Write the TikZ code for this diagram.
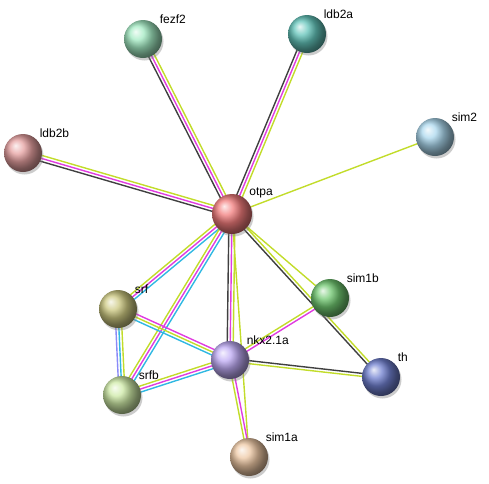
\documentclass[tikz,border=0pt]{standalone}
\usepackage{fontspec}
\setmainfont{Liberation Sans}
\usetikzlibrary{calc,backgrounds,shadows}
\definecolor{gk}{HTML}{404040}
\definecolor{gm}{HTML}{E03CE0}
\definecolor{gy}{HTML}{C2DC2A}
\definecolor{gc}{HTML}{30B8E2}
\definecolor{gv}{HTML}{8A8AF8}
\definecolor{otpaC}{HTML}{F27C7C}
\definecolor{fezfC}{HTML}{A2EAC2}
\definecolor{ldbaC}{HTML}{62C4BA}
\definecolor{ldbbC}{HTML}{E6A0A0}
\definecolor{simtC}{HTML}{ABD8EE}
\definecolor{simbC}{HTML}{70C870}
\definecolor{srfC}{HTML}{CCC880}
\definecolor{nkxC}{HTML}{BEAAF4}
\definecolor{thC}{HTML}{7080D0}
\definecolor{srfbC}{HTML}{CEEAA6}
\definecolor{simaC}{HTML}{EEC8A4}

% parallel evidence lines between two proteins
\newcommand{\link}[4]{%
  \foreach \c [count=\i] in {#3}{%
    \pgfmathsetmacro\off{(\i-(#4+1)/2)*3}
    \draw[edge,\c] ($(#1.center)!\off pt!90:(#2.center)$) --
      ($(#2.center)!\off pt!-90:(#1.center)$);
  }}

\begin{document}
\begin{tikzpicture}[x=1pt,y=-1pt,
  prot/.style={circle,minimum size=38pt,inner sep=0pt,shading=ball,
    drop shadow={opacity=0.4,shadow xshift=1.5pt,shadow yshift=-2.5pt},
    label distance=0pt},
  lab/.style={font=\fontsize{12}{14}\selectfont,inner sep=1.5pt,xshift=1.5pt},
  edge/.style={line width=1.4pt}]
\useasboundingbox (0,0) rectangle (489,483);

\node[prot,ball color=otpaC,minimum size=40pt,label={[lab]45:otpa}] (otpa) at (232,214) {};
\node[prot,ball color=fezfC,label={[lab]45:fezf2}] (fezf2) at (143,39) {};
\node[prot,ball color=ldbaC,label={[lab]45:ldb2a}] (ldb2a) at (307,34) {};
\node[prot,ball color=ldbbC,label={[lab]45:ldb2b}] (ldb2b) at (23,153) {};
\node[prot,ball color=simtC,label={[lab]45:sim2}] (sim2) at (435,137) {};
\node[prot,ball color=simbC,label={[lab]45:sim1b}] (sim1b) at (330,298) {};
\node[prot,ball color=srfC,label={[lab]45:srf}] (srf) at (118,309) {};
\node[prot,ball color=nkxC,label={[lab]45:nkx2.1a}] (nkx) at (230,360) {};
\node[prot,ball color=thC,label={[lab]45:th}] (th) at (381,377) {};
\node[prot,ball color=srfbC,label={[lab]45:srfb}] (srfb) at (122,395) {};
\node[prot,ball color=simaC,label={[lab]45:sim1a}] (sim1a) at (249,457) {};

\begin{scope}[on background layer]
\link{otpa}{fezf2}{gy,gm,gk}{3}
\link{otpa}{ldb2a}{gy,gm,gk}{3}
\link{otpa}{ldb2b}{gy,gm,gk}{3}
\link{otpa}{sim2}{gy}{1}
\link{otpa}{sim1b}{gy}{1}
\link{otpa}{th}{gk,gy}{2}
\link{otpa}{nkx}{gk,gm,gy}{3}
\link{otpa}{sim1a}{gy}{1}
\link{otpa}{srf}{gy,gm,gc}{3}
\link{otpa}{srfb}{gy,gm,gc}{3}
\link{srf}{srfb}{gv,gc,gy}{3}
\link{srf}{nkx}{gc,gy,gm}{3}
\link{srfb}{nkx}{gc,gm,gy}{3}
\link{nkx}{sim1b}{gm,gy}{2}
\link{nkx}{th}{gy,gk}{2}
\link{nkx}{sim1a}{gy,gm}{2}
\end{scope}
\end{tikzpicture}
\end{document}
